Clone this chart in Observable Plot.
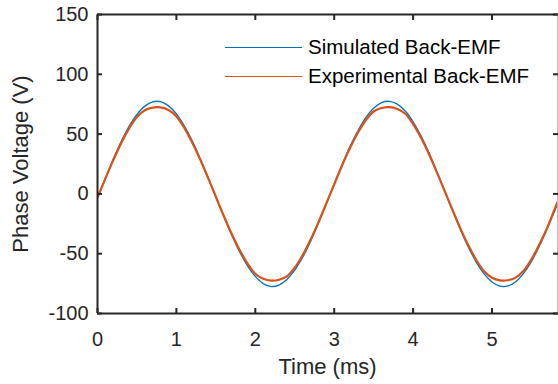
<!DOCTYPE html>
<html><head><meta charset="utf-8">
<script src="https://cdn.jsdelivr.net/npm/d3@7"></script>
<script src="https://cdn.jsdelivr.net/npm/@observablehq/plot@0.6"></script>
<style>
html,body{margin:0;padding:0;background:#fff;}
#chart{position:relative;width:558px;height:384px;overflow:hidden;}
.lg{position:absolute;left:225px;display:flex;align-items:center;height:20px;font:20.5px "Liberation Sans",Arial,sans-serif;line-height:20px;color:#000;white-space:nowrap;}
.sw{width:77px;height:0;margin-right:6px;}
</style></head>
<body><div id="chart"></div>
<script>
const time = [0,0.1,0.2,0.3,0.4,0.5,0.6,0.7,0.8,0.9,1.0,1.1,1.2,1.3,1.4,1.5,1.6,1.7,1.8,1.9,2.0,2.1,2.2,2.3,2.4,2.5,2.6,2.7,2.8,2.9,3.0,3.1,3.2,3.3,3.4,3.5,3.6,3.7,3.8,3.9,4.0,4.1,4.2,4.3,4.4,4.5,4.6,4.7,4.8,4.9,5.0,5.1,5.2,5.3,5.4,5.5,5.6,5.7,5.8,5.85];
const simulated = [-3.3,13.2,29.2,43.8,56.4,66.4,73.4,77.0,77.1,73.6,66.9,57.0,44.5,29.9,14.0,-2.5,-18.9,-34.4,-48.3,-60.0,-69.0,-75.0,-77.5,-76.3,-71.6,-63.8,-53.0,-39.7,-24.5,-8.3,8.3,24.5,39.6,52.8,63.7,71.6,76.3,77.4,75.1,69.3,60.3,48.5,34.5,18.8,2.5,-14.0,-29.9,-44.5,-57.0,-66.9,-73.6,-77.1,-77.0,-73.4,-66.4,-56.4,-43.8,-29.2,-13.2,-5.0];
const experimental = [-3.0,12.8,28.2,42.4,54.6,64.3,70.0,72.2,72.3,70.1,64.7,55.2,43.0,29.0,13.6,-2.4,-18.3,-33.3,-46.7,-58.0,-66.8,-71.0,-72.5,-71.8,-68.9,-61.7,-51.3,-38.4,-23.7,-8.0,8.0,23.7,38.3,51.1,61.6,68.9,71.8,72.5,71.0,67.0,58.3,46.9,33.4,18.2,2.4,-13.5,-29.0,-43.0,-55.2,-64.7,-70.1,-72.3,-72.2,-70.0,-64.3,-54.6,-42.4,-28.2,-11.8,-3.8];
const seriesNames = ["Simulated Back-EMF","Experimental Back-EMF"];
const seriesColors = ["#0072BD","#D95319"];
const xTicks = [0,1,2,3,4,5];
const yTicks = [-100,-50,0,50,100,150];
const xDomain = [0,5.83];
const yDomain = [-100,150];
const xLabel = "Time (ms)";
const yLabel = "Phase Voltage (V)";

const simRows = time.map((t,i)=>({t, v: simulated[i]}));
const expRows = time.map((t,i)=>({t, v: experimental[i]}));
const axisColor = "#262626";
const font = '"Liberation Sans", Arial, sans-serif';
const fmt = d => String(d);

const chart = Plot.plot({
  width: 558, height: 384,
  marginLeft: 97, marginRight: 1, marginTop: 14, marginBottom: 71,
  style: {fontFamily: font, fontSize: "20px", color: axisColor, background: "white", overflow: "visible"},
  x: {domain: xDomain},
  y: {domain: yDomain},
  marks: [
    Plot.line(simRows, {x: "t", y: "v", stroke: seriesColors[0], strokeWidth: 1.3, curve: "catmull-rom", clip: true}),
    Plot.line(expRows, {x: "t", y: "v", stroke: seriesColors[1], strokeWidth: 2.2, curve: "catmull-rom", clip: true}),
    Plot.ruleY([yDomain[0], yDomain[1]], {stroke: axisColor, strokeWidth: 2}),
    Plot.ruleX([xDomain[0]], {stroke: axisColor, strokeWidth: 2}),
    Plot.ruleX([xDomain[1]], {stroke: "#bbbbbb", strokeWidth: 1}),
    Plot.axisX({anchor: "bottom", ticks: xTicks, tickFormat: fmt, tickSize: -5, tickPadding: 23, strokeWidth: 2, label: null, fill: "#262626"}),
    Plot.axisX({anchor: "top", ticks: xTicks, tickSize: -5, strokeWidth: 2, tickFormat: () => "", label: null}),
    Plot.axisY({anchor: "left", ticks: yTicks, tickFormat: fmt, tickSize: -5, tickPadding: 14, strokeWidth: 2, label: null, fill: "#262626"}),
    Plot.axisY({anchor: "right", ticks: yTicks, tickSize: -5, strokeWidth: 2, tickFormat: () => "", label: null}),
    Plot.text([xLabel], {frameAnchor: "bottom", dy: 60, fontSize: 22, fill: "#262626"}),
    Plot.text([yLabel], {frameAnchor: "left", textAnchor: "middle", dx: -77, rotate: -90, fontSize: 22, fill: "#262626"})
  ]
});
const host = document.getElementById("chart");
host.appendChild(chart);
const tops = [37, 66];
seriesNames.forEach((name, i) => {
  const row = document.createElement("div");
  row.className = "lg";
  row.style.top = tops[i] + "px";
  const sw = document.createElement("div");
  sw.className = "sw";
  sw.style.borderTop = (i === 0 ? 1.3 : 1.6) + "px solid " + seriesColors[i];
  const tx = document.createElement("span");
  tx.textContent = name;
  row.appendChild(sw); row.appendChild(tx);
  host.appendChild(row);
});
</script>
</body></html>
